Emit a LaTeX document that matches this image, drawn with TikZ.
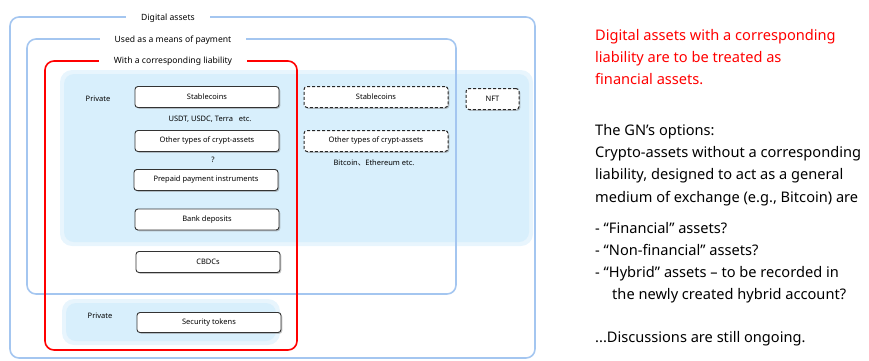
\documentclass[tikz,border=0pt]{standalone}
\usepackage{fontspec}
\setmainfont{Noto Sans}
\newfontfamily\cjkfont{Noto Sans CJK JP}
\usetikzlibrary{shadows}
\definecolor{frameblue}{HTML}{A4C6F0}
\definecolor{shadeblue}{HTML}{D8EFFC}
\tikzset{
 frame/.style={draw=frameblue, line width=1.6pt, rounded corners=9pt},
 redframe/.style={draw=red, line width=1.6pt, rounded corners=9pt},
 flabel/.style={fill=white, font=\fontsize{8.6}{9}\selectfont, inner xsep=15pt, inner ysep=1pt},
 item/.style={draw=black!80, fill=white, line width=0.9pt, rounded corners=3pt, minimum width=144pt, minimum height=21pt, inner sep=0pt, font=\fontsize{7.5}{9}\selectfont, drop shadow={shadow xshift=1.3pt, shadow yshift=-1.3pt, opacity=0.45}},
 ditem/.style={item, draw=black!85, line width=1pt, dash pattern=on 3pt off 2pt},
 note/.style={font=\fontsize{7.5}{9}\selectfont, inner sep=0pt},
 rline/.style={anchor=base west, inner sep=0pt, font=\fontsize{14.6}{16}\selectfont},
}
\begin{document}
\begin{tikzpicture}[x=1pt,y=-1pt]
\useasboundingbox (0,0) rectangle (869,360);
% shaded regions
\fill[shadeblue!60, rounded corners=12pt] (60,70) rectangle (533,246);
\fill[shadeblue, rounded corners=10pt] (64,74) rectangle (529,242);
\fill[shadeblue!60, rounded corners=12pt] (62,299) rectangle (280,345);
\fill[shadeblue, rounded corners=10pt] (66,303) rectangle (276,341);
% frames
\draw[frame] (10,17) rectangle (535,358);
\draw[frame] (27,39) rectangle (456,294);
\draw[redframe] (45,61) rectangle (297,350);
\node[flabel] (lda) at (168,18) {Digital assets};
\node[flabel] (lpay) at (173,40) {Used as a means of payment};
\node[flabel] (lliab) at (173,61.5) {With a corresponding liability};
% left column
\node[note] (priv1) at (98,99) {Private};
\node[item] (stab) at (207,97) {Stablecoins};
\node[note] (usdt) at (210,119) {USDT, USDC, Terra \ \ etc.};
\node[item] (other) at (207,141) {Other types of crypt-assets};
\node[note] (q) at (213,160) {?};
\node[item] (prep) at (206,180) {Prepaid payment instruments};
\node[item] (bank) at (207,219.5) {Bank deposits};
\node[item] (cbdc) at (208,262) {CBDCs};
\node[note] (priv2) at (100,316) {Private};
\node[item, minimum height=20pt] (sec) at (209,322.5) {Security tokens};
% right column
\node[ditem] (dstab) at (376,97) {Stablecoins};
\node[ditem, minimum width=53pt, minimum height=21pt] (nft) at (492.5,99) {NFT};
\node[ditem] (dother) at (376,141) {Other types of crypt-assets};
\node[note] (btc) at (374,163) {Bitcoin{\cjkfont 、}Ethereum etc.};
% right text
\node[rline, red] (r1) at (595,40) {Digital assets with a corresponding};
\node[rline, red] (r2) at (595,62) {liability are to be treated as};
\node[rline, red] (r3) at (595,84) {financial assets.};
\node[rline] (b1) at (595,135) {The GN’s options:};
\node[rline] (b2) at (595,157) {Crypto-assets without a corresponding};
\node[rline] (b3) at (595,179) {liability, designed to act as a general};
\node[rline] (b4) at (595,202) {medium of exchange (e.g., Bitcoin) are};
\node[rline] (c1) at (595,233) {- “Financial” assets?};
\node[rline] (c2) at (595,255) {- “Non-financial” assets?};
\node[rline] (c3) at (595,277) {- “Hybrid” assets – to be recorded in};
\node[rline] (c4) at (612,299) {the newly created hybrid account?};
\node[rline] (d1) at (595,342) {...Discussions are still ongoing.};
\end{tikzpicture}
\end{document}
